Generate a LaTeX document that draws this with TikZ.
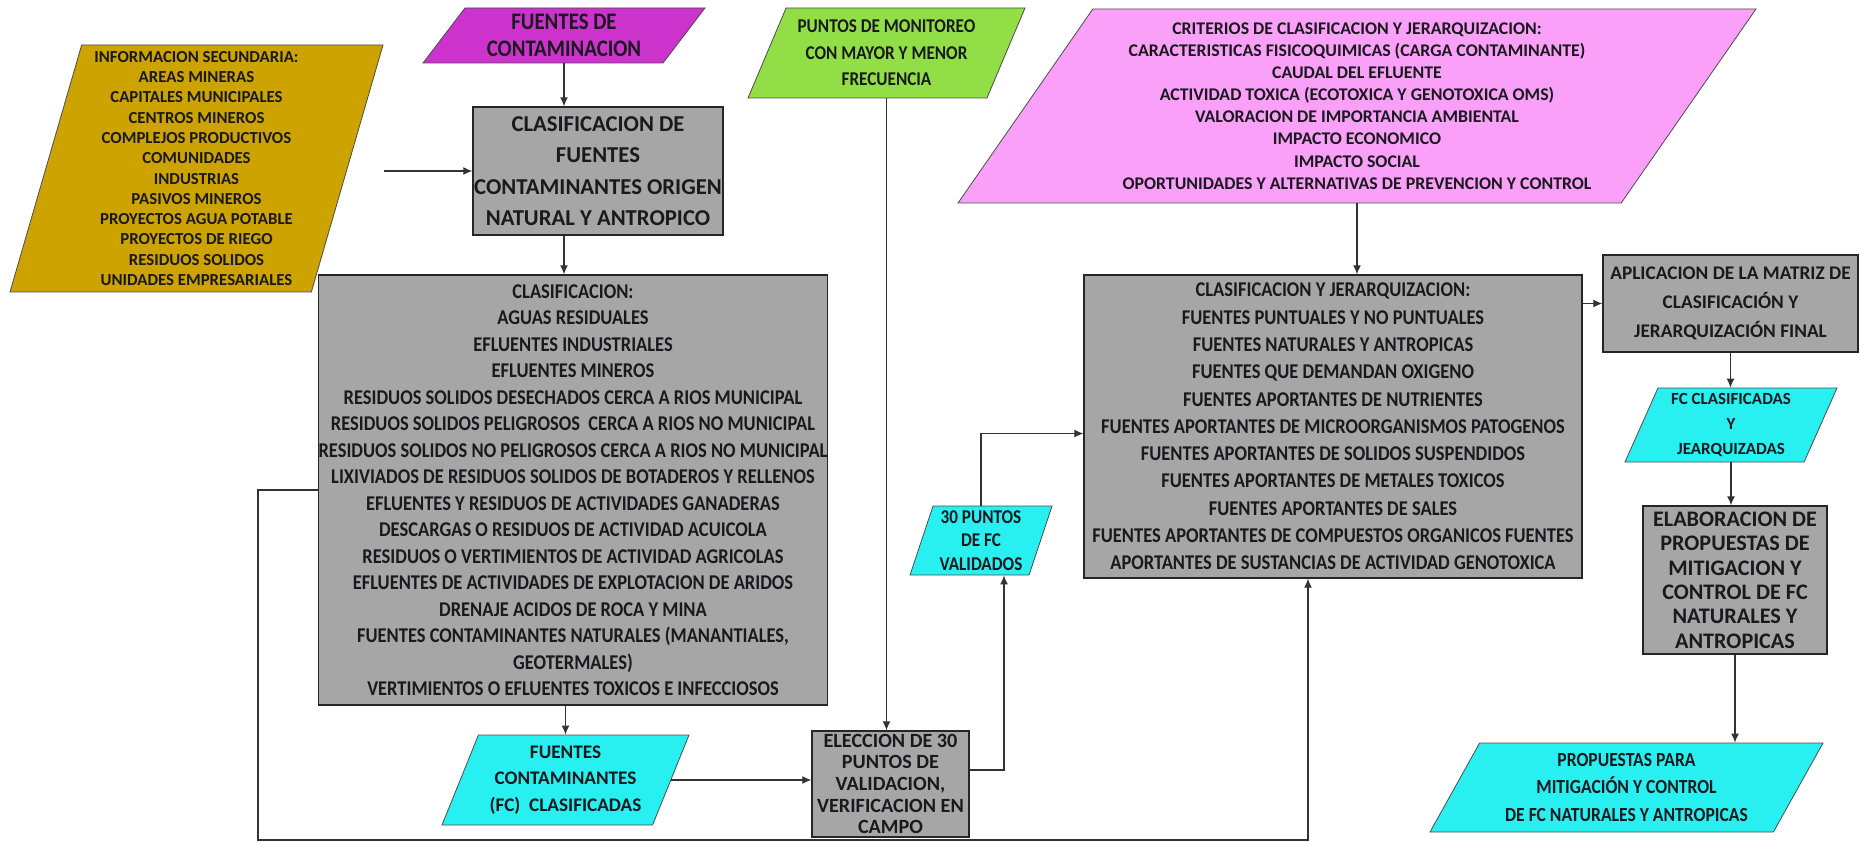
\documentclass[tikz,border=0pt]{standalone}
\usepackage{fontspec}
\setmainfont{Carlito}
\newfontfamily\narrowfont{Carlito}[FakeStretch=0.88]
\usepackage{tikz}
\usetikzlibrary{positioning,calc,shapes.geometric,arrows.meta}
\definecolor{gris}{RGB}{166,166,166}
\definecolor{oro}{RGB}{204,163,0}
\definecolor{morado}{RGB}{204,51,204}
\definecolor{verde}{RGB}{146,222,70}
\definecolor{rosa}{RGB}{250,160,248}
\definecolor{celeste}{RGB}{40,240,240}
\definecolor{texto}{RGB}{25,25,30}

\begin{document}
\begin{tikzpicture}[x=1pt,y=-1pt,
  caja/.style={draw=black!85,line width=1.4pt,fill=gris,align=center,inner sep=0pt,text=texto},
  para/.style 2 args={trapezium,trapezium left angle=#1,trapezium right angle=#2,trapezium stretches body,
    draw=black!70,line width=0.8pt,align=center,inner sep=0pt,text=texto},
  flecha/.style={draw=black!80,line width=1.2pt,-{Latex[length=9pt,width=8pt]}}]
\useasboundingbox (0,0) rectangle (1861,842);
\node[para={73}{107},fill=oro,minimum width=373pt,minimum height=247pt,font=\bfseries\fontsize{16.8}{20.3}\selectfont] (info) at (196.5,168.5)
  {INFORMACION SECUNDARIA:\\AREAS MINERAS\\CAPITALES MUNICIPALES\\CENTROS MINEROS\\COMPLEJOS PRODUCTIVOS\\COMUNIDADES\\INDUSTRIAS\\PASIVOS MINEROS\\PROYECTOS AGUA POTABLE\\PROYECTOS DE RIEGO\\RESIDUOS SOLIDOS\\UNIDADES EMPRESARIALES};
\node[para={45.5}{134.5},fill=morado,minimum width=282pt,minimum height=55pt,font=\narrowfont\bfseries\fontsize{23.7}{27}\selectfont] (fuentes) at (564,35.5)
  {FUENTES DE\\CONTAMINACION};
\node[caja,minimum width=250pt,minimum height=128pt,font=\bfseries\fontsize{22.7}{31.3}\selectfont] (clasif) at (598,171)
  {CLASIFICACION DE\\FUENTES\\CONTAMINANTES ORIGEN\\NATURAL Y ANTROPICO};
\node[caja,minimum width=506pt,minimum height=430pt,font=\narrowfont\bfseries\fontsize{21}{26.5}\selectfont] (clas) at (573,490)
  {CLASIFICACION:\\AGUAS RESIDUALES\\EFLUENTES INDUSTRIALES\\EFLUENTES MINEROS\\
   RESIDUOS SOLIDOS DESECHADOS CERCA A RIOS MUNICIPAL\\
   RESIDUOS SOLIDOS PELIGROSOS\ \ CERCA A RIOS NO MUNICIPAL\\
   RESIDUOS SOLIDOS NO PELIGROSOS CERCA A RIOS NO MUNICIPAL\\
   LIXIVIADOS DE RESIDUOS SOLIDOS DE BOTADEROS Y RELLENOS\\
   EFLUENTES Y RESIDUOS DE ACTIVIDADES GANADERAS\\
   DESCARGAS O RESIDUOS DE ACTIVIDAD ACUICOLA\\
   RESIDUOS O VERTIMIENTOS DE ACTIVIDAD AGRICOLAS\\
   EFLUENTES DE ACTIVIDADES DE EXPLOTACION DE ARIDOS\\
   DRENAJE ACIDOS DE ROCA Y MINA\\
   FUENTES CONTAMINANTES NATURALES (MANANTIALES,\\GEOTERMALES)\\
   VERTIMIENTOS O EFLUENTES TOXICOS E INFECCIOSOS};
\node[para={62}{118},fill=celeste,minimum width=247pt,minimum height=90pt,font=\bfseries\fontsize{19.2}{26.5}\selectfont] (fcc) at (565.5,780)
  {FUENTES\\CONTAMINANTES\\(FC)\ \ CLASIFICADAS};
\node[para={60}{120},fill=verde,minimum width=277pt,minimum height=90pt,font=\narrowfont\bfseries\fontsize{19.5}{26.5}\selectfont] (monit) at (886.5,53)
  {PUNTOS DE MONITOREO\\CON MAYOR Y MENOR\\FRECUENCIA};
\node[caja,minimum width=157pt,minimum height=106pt,font=\bfseries\fontsize{20.2}{21.7}\selectfont] (elec) at (890.5,784)
  {ELECCION DE 30\\PUNTOS DE\\VALIDACION,\\VERIFICACION EN\\CAMPO};
\node[para={69}{111},fill=celeste,minimum width=142pt,minimum height=69pt,font=\narrowfont\bfseries\fontsize{19.5}{23.5}\selectfont] (p30) at (981,540.5)
  {30 PUNTOS\\DE FC\\VALIDADOS};
\node[para={51}{129},fill=rosa,minimum width=798pt,minimum height=194pt,font=\bfseries\fontsize{17.8}{22.1}\selectfont] (crit) at (1357,106)
  {CRITERIOS DE CLASIFICACION Y JERARQUIZACION:\\
   CARACTERISTICAS FISICOQUIMICAS (CARGA CONTAMINANTE)\\
   CAUDAL DEL EFLUENTE\\
   ACTIVIDAD TOXICA (ECOTOXICA Y GENOTOXICA OMS)\\
   VALORACION DE IMPORTANCIA AMBIENTAL\\
   IMPACTO ECONOMICO\\
   IMPACTO SOCIAL\\
   OPORTUNIDADES Y ALTERNATIVAS DE PREVENCION Y CONTROL};
\node[caja,minimum width=498pt,minimum height=303pt,font=\narrowfont\bfseries\fontsize{21}{27.3}\selectfont] (jer) at (1333,426.5)
  {CLASIFICACION Y JERARQUIZACION:\\
   FUENTES PUNTUALES Y NO PUNTUALES\\
   FUENTES NATURALES Y ANTROPICAS\\
   FUENTES QUE DEMANDAN OXIGENO\\
   FUENTES APORTANTES DE NUTRIENTES\\
   FUENTES APORTANTES DE MICROORGANISMOS PATOGENOS\\
   FUENTES APORTANTES DE SOLIDOS SUSPENDIDOS\\
   FUENTES APORTANTES DE METALES TOXICOS\\
   FUENTES APORTANTES DE SALES\\
   FUENTES APORTANTES DE COMPUESTOS ORGANICOS FUENTES\\
   APORTANTES DE SUSTANCIAS DE ACTIVIDAD GENOTOXICA};
\node[caja,minimum width=255pt,minimum height=97pt,font=\bfseries\fontsize{19.3}{29}\selectfont] (aplic) at (1730.5,303.5)
  {APLICACION DE LA MATRIZ DE\\CLASIFICACIÓN Y\\JERARQUIZACIÓN FINAL};
\node[para={62.5}{117.5},fill=celeste,minimum width=212pt,minimum height=74pt,font=\bfseries\fontsize{17}{25}\selectfont] (fcj) at (1731,425)
  {FC CLASIFICADAS\\Y\\JEARQUIZADAS};
\node[caja,minimum width=184pt,minimum height=148pt,font=\bfseries\fontsize{22.2}{24.4}\selectfont] (elab) at (1735,580)
  {ELABORACION DE\\PROPUESTAS DE\\MITIGACION Y\\CONTROL DE FC\\NATURALES Y\\ANTROPICAS};
\node[para={54}{126},fill=celeste,minimum width=393pt,minimum height=89pt,font=\narrowfont\bfseries\fontsize{20}{27.5}\selectfont] (prop) at (1626.5,787.5)
  {PROPUESTAS PARA\\MITIGACIÓN Y CONTROL\\DE FC NATURALES Y ANTROPICAS};
\coordinate (infoout) at (info.top right corner |- clasif.west);
\coordinate (retorno) at (258,840);
\draw[flecha] (infoout) -- (clasif.west);
\draw[flecha] (fuentes.center |- fuentes.south) -- (fuentes.center |- clasif.north);
\draw[flecha] (fuentes.center |- clasif.south) -- (fuentes.center |- clas.north);
\draw[flecha] (fcc.center |- clas.south) -- (fcc.center |- fcc.north);
\draw[flecha] (fcc.east) -- (fcc.east -| elec.west);
\draw[flecha] (monit.center |- monit.south) -- (monit.center |- elec.north);
\draw[flecha] ([yshift=14pt]elec.east) -| ($(p30.center |- p30.south)+(23,0)$);
\draw[flecha] (p30.center |- p30.north) |- ([yshift=-7pt]jer.west);
\draw[flecha] (crit.center |- crit.south) -- (crit.center |- jer.north);
\draw[flecha] (aplic.west -| jer.east) -- (aplic.west);
\draw[flecha] (aplic.south) -- (aplic.south |- fcj.north);
\draw[flecha] (fcj.center |- fcj.south) -- (fcj.center |- elab.north);
\draw[flecha] (elab.south) -- (elab.south |- prop.north);
\draw[flecha] (clas.west) -| (retorno) -| ($(jer.south)+(-25,0)$);
\end{tikzpicture}
\end{document}
